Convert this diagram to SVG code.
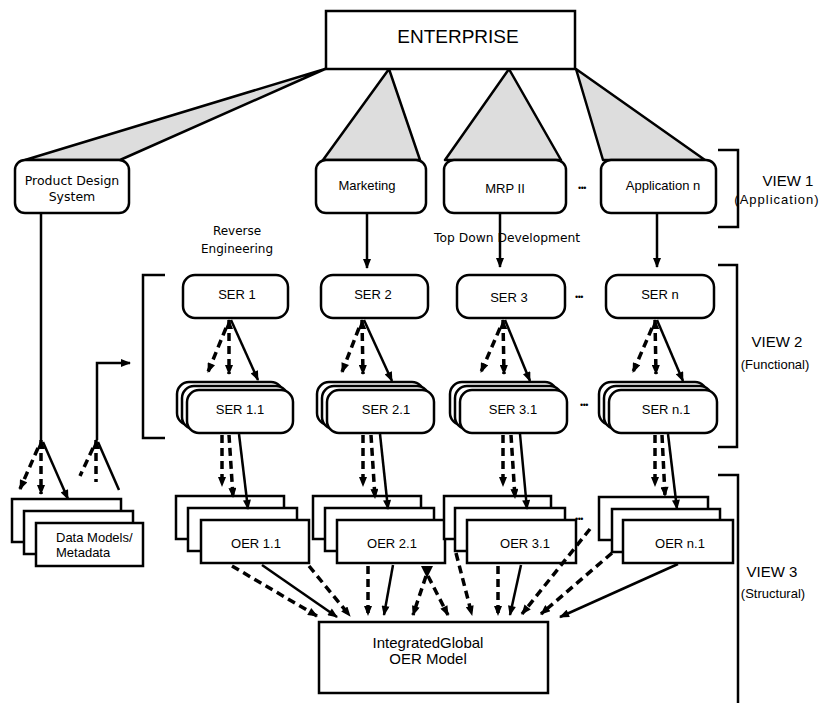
<svg xmlns="http://www.w3.org/2000/svg" width="828" height="703" viewBox="0 0 828 703">
  <style>
    .box{fill:#fff;stroke:#000;stroke-width:2.5}
    .tri{fill:#dddddd;stroke:#000;stroke-width:2.5;stroke-linejoin:round}
    .ln{fill:none;stroke:#000;stroke-width:2.5}
    .ds{fill:none;stroke:#000;stroke-width:3.5;stroke-dasharray:8 5}
    .br{fill:none;stroke:#000;stroke-width:2.5}
    .t{font-family:"Liberation Sans",Arial,sans-serif;font-size:13px;text-anchor:middle;fill:#000}
    .g{font-family:"DejaVu Sans",Verdana,sans-serif;font-size:12px;fill:#000}
    .dots{font-family:"Liberation Sans",Arial,sans-serif;font-size:9px;text-anchor:middle;fill:#000;letter-spacing:-0.5px}
    .a{marker-end:url(#ah)}
    .up{marker-start:url(#ah)}
  </style>
  <defs>
    <marker id="ah" viewBox="0 0 10 8" refX="9" refY="4" markerWidth="11" markerHeight="8" markerUnits="userSpaceOnUse" orient="auto-start-reverse">
      <path d="M0,0 L10,4 L0,8 z" fill="#000"/>
    </marker>
  </defs>
  <rect width="828" height="703" fill="#fff"/>

  <!-- decomposition wedges from the enterprise box -->
  <g id="wedges">
    <polygon class="tri" points="325,69 25,160 120,160"/>
    <polygon class="tri" points="389,69 323,160 420,160"/>
    <polygon class="tri" points="509,69 445,160 561,160"/>
    <polygon class="tri" points="576,69 603,160 705,160"/>
  </g>

  <g id="enterprise">
    <rect class="box" x="326" y="11" width="249" height="58"/>
    <text class="t" x="458" y="43" style="font-size:19px">ENTERPRISE</text>
  </g>

  <!-- view 1: applications -->
  <g id="product-design">
    <rect class="box" x="15" y="160" width="114" height="53" rx="10"/>
    <text class="g" x="72" y="185" text-anchor="middle" style="font-size:12.5px">Product Design</text>
    <text class="g" x="72" y="201" text-anchor="middle" style="font-size:12.5px">System</text>
  </g>
  <g id="marketing">
    <rect class="box" x="316" y="160" width="110" height="53" rx="10"/>
    <text class="t" x="367" y="190">Marketing</text>
  </g>
  <g id="mrp">
    <rect class="box" x="444" y="160" width="122" height="53" rx="10"/>
    <text class="t" x="505" y="193">MRP II</text>
  </g>
  <g id="application-n">
    <rect class="box" x="601" y="160" width="115" height="53" rx="10"/>
    <text class="t" x="663" y="190">Application n</text>
  </g>
  <text class="dots" x="582" y="191">•••</text>

  <!-- view 2: SER models -->
  <g id="ser1">
    <rect class="box" x="183" y="275" width="105" height="43" rx="12"/>
    <text class="t" x="237" y="299">SER 1</text>
  </g>
  <g id="ser2">
    <rect class="box" x="321" y="275" width="107" height="43" rx="12"/>
    <text class="t" x="373" y="299">SER 2</text>
  </g>
  <g id="ser3">
    <rect class="box" x="457" y="275" width="108" height="43" rx="12"/>
    <text class="t" x="509" y="302">SER 3</text>
  </g>
  <g id="sern">
    <rect class="box" x="606" y="275" width="108" height="43" rx="12"/>
    <text class="t" x="660" y="299">SER n</text>
  </g>
  <text class="dots" x="579" y="300">•••</text>

  <g id="ser1-1">
    <rect class="box" x="177" y="382" width="106" height="43" rx="12"/>
    <rect class="box" x="182" y="386" width="106" height="43" rx="12"/>
    <rect class="box" x="187" y="390" width="106" height="43" rx="12"/>
    <text class="t" x="240" y="414">SER 1.1</text>
  </g>
  <g id="ser2-1">
    <rect class="box" x="317" y="382" width="107" height="43" rx="12"/>
    <rect class="box" x="322" y="386" width="107" height="43" rx="12"/>
    <rect class="box" x="327" y="390" width="107" height="43" rx="12"/>
    <text class="t" x="386" y="414">SER 2.1</text>
  </g>
  <g id="ser3-1">
    <rect class="box" x="450" y="382" width="107" height="43" rx="12"/>
    <rect class="box" x="455" y="386" width="107" height="43" rx="12"/>
    <rect class="box" x="460" y="390" width="107" height="43" rx="12"/>
    <text class="t" x="513" y="414">SER 3.1</text>
  </g>
  <g id="sern-1">
    <rect class="box" x="599" y="382" width="108" height="43" rx="12"/>
    <rect class="box" x="604" y="386" width="108" height="43" rx="12"/>
    <rect class="box" x="609" y="390" width="108" height="43" rx="12"/>
    <text class="t" x="666" y="414">SER n.1</text>
  </g>
  <text class="dots" x="584" y="408">•••</text>

  <!-- view 3: OER models -->
  <g id="data-models">
    <rect class="box" x="12" y="499" width="109" height="43"/>
    <rect class="box" x="24" y="511" width="109" height="43"/>
    <rect class="box" x="36" y="523" width="107" height="43"/>
    <text class="t" x="56" y="542" text-anchor="start" style="text-anchor:start">Data Models/</text>
    <text class="t" x="56" y="557" style="text-anchor:start">Metadata</text>
  </g>
  <g id="oer1-1">
    <rect class="box" x="176" y="496" width="108" height="43"/>
    <rect class="box" x="188" y="508" width="109" height="43"/>
    <rect class="box" x="201" y="520" width="108" height="43"/>
    <text class="t" x="256" y="548">OER 1.1</text>
  </g>
  <g id="oer2-1">
    <rect class="box" x="313" y="496" width="108" height="43"/>
    <rect class="box" x="325" y="508" width="109" height="43"/>
    <rect class="box" x="337" y="520" width="108" height="43"/>
    <text class="t" x="392" y="548">OER 2.1</text>
  </g>
  <g id="oer3-1">
    <rect class="box" x="444" y="496" width="107" height="43"/>
    <rect class="box" x="455" y="508" width="110" height="43"/>
    <rect class="box" x="467" y="520" width="109" height="43"/>
    <text class="t" x="525" y="548">OER 3.1</text>
  </g>
  <text class="dots" x="579" y="522">•••</text>
  <g id="oern-1">
    <rect class="box" x="599" y="497" width="109" height="43"/>
    <rect class="box" x="612" y="509" width="108" height="43"/>
    <rect class="box" x="623" y="520" width="110" height="43"/>
    <text class="t" x="680" y="548">OER n.1</text>
  </g>
  <g id="integrated">
    <rect class="box" x="319" y="622" width="229" height="71"/>
    <text class="t" x="428" y="648" style="font-size:15px">IntegratedGlobal</text>
    <text class="t" x="428" y="664" style="font-size:15px">OER Model</text>
  </g>

  <!-- side labels and brackets -->
  <g id="view-labels">
    <path class="br" d="M718,150 H738 V227 H718"/>
    <text class="t" x="788" y="186" style="font-size:15px">VIEW 1</text>
    <text class="t" x="777" y="204" style="letter-spacing:1px">(Application)</text>
    <path class="br" d="M165,275 H143 V438 H165"/>
    <path class="br" d="M718,265 H737 V447 H718"/>
    <text class="t" x="777" y="347" style="font-size:15px">VIEW 2</text>
    <text class="t" x="775" y="369">(Functional)</text>
    <path class="br" d="M718,475 H738 V703"/>
    <text class="t" x="772" y="577" style="font-size:15px">VIEW 3</text>
    <text class="t" x="773" y="598">(Structural)</text>
    <text class="g" x="237" y="235" text-anchor="middle">Reverse</text>
    <text class="g" x="237" y="253" text-anchor="middle">Engineering</text>
    <text class="g" x="434" y="242" style="font-size:12.3px">Top Down Development</text>
  </g>

  <g id="connectors">
    <!-- application to SER -->
    <line class="ln a" x1="367" y1="213" x2="367" y2="268"/>
    <line class="ln a" x1="500" y1="213" x2="500" y2="267"/>
    <line class="ln a" x1="657" y1="213" x2="657" y2="267"/>

    <!-- product design system feed -->
    <line class="ln" x1="41" y1="213" x2="41" y2="440"/>
    <line class="ds up a" x1="41" y1="440" x2="41" y2="494"/>
    <line class="ds a" x1="38" y1="448" x2="20" y2="489"/>
    <line class="ln a" x1="43" y1="442" x2="68" y2="499"/>
    <polyline class="ln a" points="97,440 97,363 130,363"/>
    <line class="ds up" x1="96" y1="440" x2="96" y2="482"/>
    <line class="ds" x1="93" y1="448" x2="80" y2="476"/>
    <line class="ln" x1="98" y1="442" x2="119" y2="490"/>

    <!-- SER to SER x.1 -->
    <line class="ds up a" x1="229" y1="320" x2="229" y2="374"/>
    <line class="ds a" x1="226" y1="328" x2="208" y2="372"/>
    <line class="ln a" x1="231" y1="320" x2="258" y2="380"/>

    <line class="ds up a" x1="362" y1="320" x2="363" y2="374"/>
    <line class="ds a" x1="359" y1="328" x2="342" y2="372"/>
    <line class="ln a" x1="364" y1="320" x2="392" y2="381"/>

    <line class="ds up a" x1="503" y1="320" x2="504" y2="374"/>
    <line class="ds a" x1="500" y1="328" x2="481" y2="372"/>
    <line class="ln a" x1="505" y1="320" x2="530" y2="381"/>

    <line class="ds up a" x1="655" y1="320" x2="656" y2="374"/>
    <line class="ds a" x1="652" y1="328" x2="633" y2="372"/>
    <line class="ln a" x1="657" y1="320" x2="683" y2="381"/>

    <!-- SER x.1 to OER stacks -->
    <line class="ds a" x1="222" y1="435" x2="222" y2="486"/>
    <line class="ds a" x1="229" y1="435" x2="233" y2="497"/>
    <line class="ln a" x1="239" y1="434" x2="248" y2="509"/>

    <line class="ds a" x1="363" y1="435" x2="363" y2="486"/>
    <line class="ds a" x1="371" y1="435" x2="375" y2="498"/>
    <line class="ln a" x1="380" y1="434" x2="388" y2="509"/>

    <line class="ds a" x1="503" y1="435" x2="503" y2="486"/>
    <line class="ds a" x1="511" y1="435" x2="515" y2="498"/>
    <line class="ln a" x1="520" y1="434" x2="527" y2="509"/>

    <line class="ds a" x1="655" y1="435" x2="655" y2="486"/>
    <line class="ds a" x1="662" y1="435" x2="665" y2="496"/>
    <line class="ln a" x1="668" y1="434" x2="677" y2="509"/>

    <!-- OER stacks to the integrated model -->
    <line class="ds a" x1="232" y1="566" x2="317" y2="616"/>
    <line class="ln a" x1="262" y1="565" x2="337" y2="617"/>
    <line class="ds a" x1="309" y1="566" x2="350" y2="616"/>
    <line class="ds a" x1="368" y1="566" x2="368" y2="615"/>
    <line class="ln a" x1="393" y1="565" x2="384" y2="615"/>
    <polygon points="421,566 433,566 427,578" fill="#000"/>
    <line class="ds a" x1="426" y1="576" x2="413" y2="615"/>
    <line class="ds a" x1="428" y1="576" x2="448" y2="615"/>
    <line class="ds a" x1="456" y1="553" x2="472" y2="615"/>
    <line class="ds a" x1="498" y1="566" x2="498" y2="615"/>
    <line class="ln a" x1="521" y1="565" x2="510" y2="615"/>
    <line class="ds a" x1="590" y1="529" x2="522" y2="614"/>
    <line class="ds a" x1="612" y1="553" x2="541" y2="614"/>
    <line class="ln a" x1="678" y1="564" x2="560" y2="617"/>
  </g>
</svg>
